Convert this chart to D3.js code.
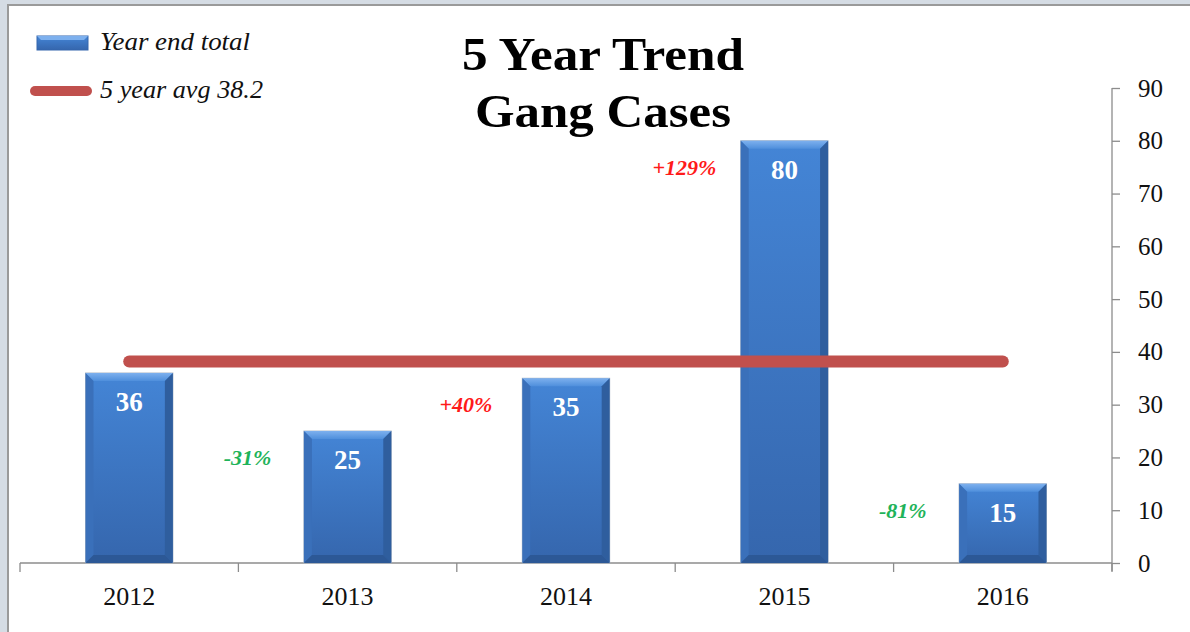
<!DOCTYPE html>
<html>
<head>
<meta charset="utf-8">
<script src="https://cdn.jsdelivr.net/npm/d3@7"></script>
<style>
body{margin:0;background:#fff;}
svg{display:block;}
</style>
</head>
<body>
<script>
const svg_width = 1190, svg_height = 632;
// data
var years = ["2012","2013","2014","2015","2016"];
var totals = [36,25,35,80,15];
var changes = ["","-31%","+40%","+129%","-81%"];
var avgValue = 38.2;
var yTicks = [0,10,20,30,40,50,60,70,80,90];
var serif = "'Liberation Serif','DejaVu Serif',serif";

var svg = d3.select("body").append("svg")
  .attr("width",svg_width)
  .attr("height",svg_height);

// frame
svg.append("rect").attr("x",0).attr("y",0).attr("width",svg_width).attr("height",svg_height).style("fill","#d5dce4");
svg.append("rect").attr("x",7).attr("y",4).attr("width",svg_width-7).attr("height",svg_height-4).style("fill","#9a9a9a");
svg.append("rect").attr("x",9).attr("y",6).attr("width",svg_width-9).attr("height",svg_height-6).style("fill","#ffffff");

var defs = svg.append("defs");
var g1 = defs.append("linearGradient").attr("id","barFill").attr("x1",0).attr("y1",0).attr("x2",0).attr("y2",1);
g1.append("stop").attr("offset","0%").attr("stop-color","#4485d6");
g1.append("stop").attr("offset","100%").attr("stop-color","#3566ad");
var g2 = defs.append("linearGradient").attr("id","bevelTop").attr("x1",0).attr("y1",0).attr("x2",0).attr("y2",1);
g2.append("stop").attr("offset","0%").attr("stop-color","#7db0ee");
g2.append("stop").attr("offset","100%").attr("stop-color","#4f8fdc");

var x = d3.scaleBand().domain(years).range([20,1112]).paddingInner(0.6).paddingOuter(0.3);
var band = d3.scaleBand().domain(years).range([20,1112]);
var y = d3.scaleLinear().domain([0,90]).range([563,88]);

// x axis
var xAxis = svg.append("g").attr("transform","translate(0,563)");
xAxis.append("line").attr("x1",20).attr("x2",1112).attr("y1",0).attr("y2",0).attr("stroke","#8c8c8c").attr("stroke-width",1.3);
var xt = years.map(function(d){return band(d);}).concat([1112]);
xAxis.selectAll("line.t").data(xt).enter().append("line").attr("class","t")
  .attr("x1",function(d){return d;}).attr("x2",function(d){return d;})
  .attr("y1",0).attr("y2",9).attr("stroke","#8c8c8c").attr("stroke-width",1.3);
xAxis.selectAll("text").data(years).enter().append("text")
  .attr("x",function(d){return band(d)+band.bandwidth()/2;})
  .attr("y",42).attr("text-anchor","middle")
  .style("font-family",serif).style("font-size","26px").style("fill","#111")
  .text(function(d){return d;});

// y axis on right
var yAxis = d3.axisRight(y).tickValues(yTicks).tickSize(8).tickPadding(18);
var ya = svg.append("g").attr("transform","translate(1112,0)").call(yAxis);
ya.select(".domain").attr("stroke","#8c8c8c").attr("stroke-width",1.3).attr("d","M0,88V571");
ya.selectAll(".tick line").attr("stroke","#8c8c8c").attr("stroke-width",1.3);
ya.selectAll(".tick text").style("font-family",serif).style("font-size","25px").style("fill","#111");

// bars
var bw = x.bandwidth(), bev = 8;
var bars = svg.append("g").selectAll("g").data(totals).enter().append("g")
  .attr("transform",function(d,i){return "translate("+x(years[i])+","+y(d)+")";});
bars.append("rect").attr("x",0).attr("y",0).attr("width",bw)
  .attr("height",function(d){return y(0)-y(d);})
  .style("fill","url(#barFill)").style("stroke","#a9b6c6").style("stroke-width",1);
bars.append("path").attr("d","M0,0H"+bw+"L"+(bw-bev)+","+bev+"H"+bev+"Z").style("fill","url(#bevelTop)");
bars.append("path").attr("d",function(d){var h=y(0)-y(d);return "M0,0L"+bev+","+bev+"V"+(h-bev)+"L0,"+h+"Z";}).style("fill","#3a70ba");
bars.append("path").attr("d",function(d){var h=y(0)-y(d);return "M"+bw+",0L"+(bw-bev)+","+bev+"V"+(h-bev)+"L"+bw+","+h+"Z";}).style("fill","#2f5e9e");
bars.append("path").attr("d",function(d){var h=y(0)-y(d);return "M0,"+h+"L"+bev+","+(h-bev)+"H"+(bw-bev)+"L"+bw+","+h+"Z";}).style("fill","#2c5896");
bars.append("text").attr("x",bw/2).attr("y",38).attr("text-anchor","middle")
  .style("font-family",serif).style("font-weight","bold").style("font-size","27px").style("fill","#fff")
  .text(function(d){return d;});

// change labels
svg.append("g").selectAll("text").data(totals).enter().append("text")
  .attr("x",function(d,i){return x(years[i])+bw/2-100;})
  .attr("y",function(d){return y(d)+34;})
  .attr("text-anchor","middle")
  .style("font-family",serif).style("font-weight","bold").style("font-style","italic").style("font-size","22px")
  .style("fill",function(d,i){return changes[i].charAt(0)=="+"?"#ff1a1a":"#1fb35a";})
  .text(function(d,i){return changes[i];});

// average line
var cx = function(i){return x(years[i])+bw/2;};
svg.append("line").attr("x1",cx(0)).attr("x2",cx(4)).attr("y1",y(avgValue)).attr("y2",y(avgValue))
  .attr("stroke","#c0504d").attr("stroke-width",12).attr("stroke-linecap","round");

// title
var title = svg.append("g")
  .style("font-family",serif).style("font-weight","bold").style("font-size","46px").style("fill","#000");
title.append("text").attr("x",462).attr("y",70).attr("textLength",282).attr("lengthAdjust","spacingAndGlyphs").text("5 Year Trend");
title.append("text").attr("x",475).attr("y",127).attr("textLength",256).attr("lengthAdjust","spacingAndGlyphs").text("Gang Cases");

// legend
var lg = svg.append("g");
lg.append("rect").attr("x",37).attr("y",36).attr("width",51).attr("height",14).style("fill","url(#barFill)").style("stroke","#3566ad");
lg.append("path").attr("d","M37,36H88L84,40H41Z").style("fill","#7db0ee");
lg.append("line").attr("x1",35).attr("x2",87).attr("y1",91).attr("y2",91)
  .attr("stroke","#c0504d").attr("stroke-width",10).attr("stroke-linecap","round");
lg.append("text").attr("x",100).attr("y",50).attr("textLength",150).attr("lengthAdjust","spacingAndGlyphs")
  .style("font-family",serif).style("font-style","italic").style("font-size","25px").style("fill","#111").text("Year end total");
lg.append("text").attr("x",100).attr("y",98).attr("textLength",163).attr("lengthAdjust","spacingAndGlyphs")
  .style("font-family",serif).style("font-style","italic").style("font-size","25px").style("fill","#111").text("5 year avg 38.2");
</script>
</body>
</html>
